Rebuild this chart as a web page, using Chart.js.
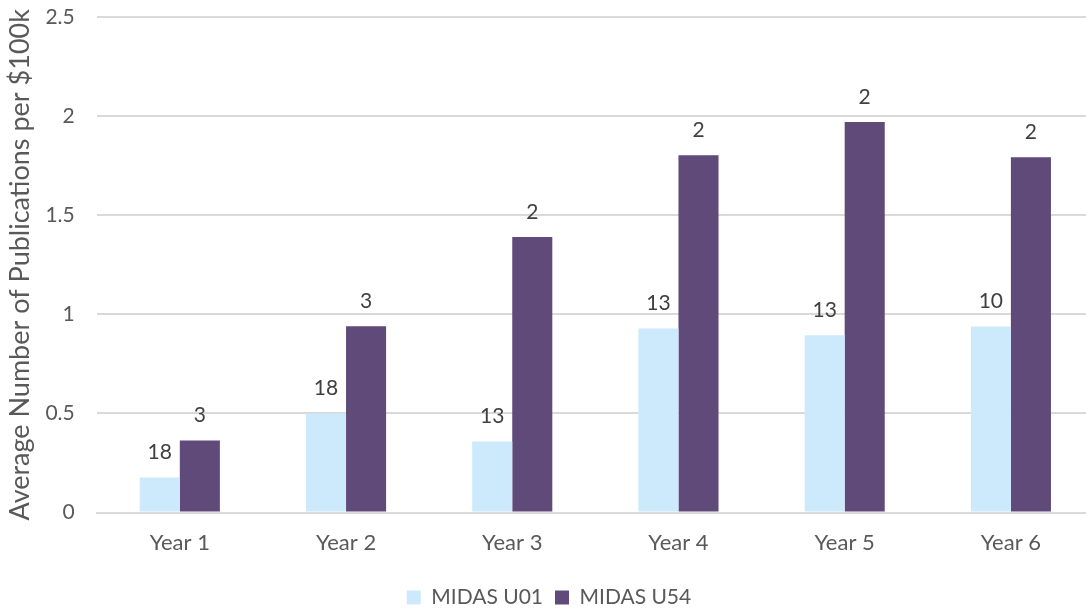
<!DOCTYPE html>
<html>
<head>
<meta charset="utf-8">
<script src="https://cdn.jsdelivr.net/npm/chart.js@4"></script>
<style>
  html, body { margin: 0; padding: 0; background: #fff; overflow: hidden; }
  #wrap { position: absolute; left: 0; top: 0; width: 1094px; height: 609px; }
</style>
</head>
<body>
<div id="wrap"><canvas id="pubChart"></canvas></div>
<script>
const years = ['Year 1', 'Year 2', 'Year 3', 'Year 4', 'Year 5', 'Year 6'];
const u01Values = [0.177, 0.50, 0.359, 0.929, 0.894, 0.939];
const u54Values = [0.364, 0.94, 1.39, 1.803, 1.97, 1.793];
// numbers printed above the bars (counts, not the bar heights)
const u01Counts = [18, 18, 13, 13, 13, 10];
const u54Counts = [3, 3, 2, 2, 2, 2];
const yTicks = [0, 0.5, 1, 1.5, 2, 2.5];

const FONT = 'Lato, "Open Sans", sans-serif';

const countLabels = {
  id: 'countLabels',
  afterDatasetsDraw(chart) {
    const ctx = chart.ctx;
    ctx.save();
    ctx.font = '21px ' + FONT;
    ctx.fillStyle = '#404040';
    ctx.textAlign = 'center';
    ctx.textBaseline = 'middle';
    chart.data.datasets.forEach((ds, i) => {
      const meta = chart.getDatasetMeta(i);
      meta.data.forEach((bar, j) => {
        ctx.fillText(String(ds.counts[j]), bar.x, bar.y - 25);
      });
    });
    ctx.restore();
  }
};

new Chart(document.getElementById('pubChart'), {
  type: 'bar',
  data: {
    labels: years,
    datasets: [
      {
        label: 'MIDAS U01',
        data: u01Values,
        counts: u01Counts,
        backgroundColor: '#cdeafc',
        categoryPercentage: 0.482,
        barPercentage: 1
      },
      {
        label: 'MIDAS U54',
        data: u54Values,
        counts: u54Counts,
        backgroundColor: '#5f4a79',
        categoryPercentage: 0.482,
        barPercentage: 1
      }
    ]
  },
  options: {
    responsive: true,
    maintainAspectRatio: false,
    animation: false,
    layout: { padding: { top: 0, right: 0, bottom: -9, left: 4 } },
    plugins: {
      legend: {
        position: 'bottom',
        labels: {
          font: { family: FONT, size: 21 },
          color: '#595959',
          boxWidth: 14,
          boxHeight: 14,
          padding: 12
        }
      },
      tooltip: { enabled: false }
    },
    scales: {
      x: {
        grid: { display: false },
        border: { display: true, color: '#d9d9d9', width: 2 },
        afterFit: scale => { scale.height += 10; },
        ticks: {
          font: { family: FONT, size: 22 },
          color: '#595959',
          padding: 9
        }
      },
      y: {
        min: 0,
        max: 2.5,
        afterBuildTicks: axis => { axis.ticks = yTicks.map(v => ({ value: v })); },
        afterFit: scale => { scale.paddingTop = 17; scale.paddingBottom = 0; },
        grid: { color: '#d9d9d9', lineWidth: 2, drawTicks: false },
        border: { display: false },
        ticks: {
          font: { family: FONT, size: 21 },
          color: '#595959',
          padding: 22,
          callback: v => String(v)
        },
        title: {
          display: true,
          text: 'Average Number of Publications per $100k',
          font: { family: FONT, size: 27 },
          color: '#595959',
          padding: { top: 0, bottom: -13 }
        }
      }
    }
  },
  plugins: [countLabels]
});
</script>
</body>
</html>
